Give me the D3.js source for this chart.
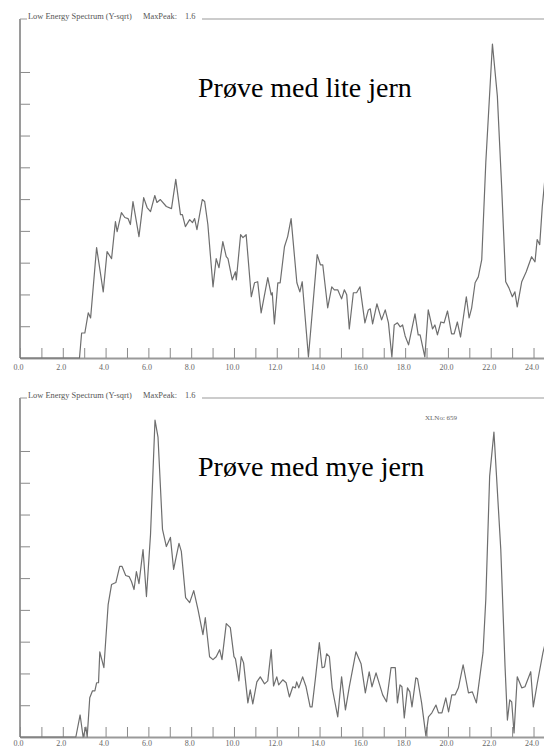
<!DOCTYPE html>
<html>
<head>
<meta charset="utf-8">
<script src="https://cdn.jsdelivr.net/npm/d3@7"></script>
<style>
  body { margin: 0; background: #fff; }
  svg { display: block; }
</style>
</head>
<body>
<svg id="chart" width="544" height="747"></svg>
<script>
'use strict';

// energy (keV) / amplitude (sqrt scale)
var liteJern = [
  [0,0],[2.78,0],[2.88,0.118],[3.03,0.118],[3.19,0.213],[3.30,0.189],[3.58,0.521],[3.89,0.312],
  [4.07,0.502],[4.28,0.469],[4.46,0.644],[4.54,0.596],[4.74,0.686],[4.90,0.663],[5.05,0.658],
  [5.16,0.630],[5.28,0.738],[5.56,0.573],[5.78,0.757],[5.94,0.710],[6.10,0.691],[6.30,0.767],
  [6.40,0.734],[6.56,0.748],[6.84,0.715],[7.08,0.705],[7.28,0.843],[7.50,0.677],[7.59,0.677],
  [7.73,0.620],[7.93,0.653],[8.06,0.639],[8.16,0.658],[8.27,0.606],[8.52,0.748],[8.63,0.739],
  [8.78,0.630],[9.02,0.336],[9.17,0.469],[9.30,0.426],[9.48,0.549],[9.64,0.478],[9.72,0.469],
  [9.92,0.369],[10.07,0.407],[10.11,0.369],[10.31,0.582],[10.42,0.568],[10.57,0.582],[10.81,0.289],
  [10.96,0.355],[11.11,0.360],[11.27,0.213],[11.58,0.379],[11.74,0.298],[11.79,0.308],[11.89,0.161],
  [12.05,0.355],[12.16,0.355],[12.36,0.525],[12.51,0.573],[12.67,0.658],[12.83,0.478],[12.94,0.355],
  [13.08,0.312],[13.19,0.360],[13.48,0.005],[13.89,0.488],[14.04,0.440],[14.15,0.440],[14.38,0.237],
  [14.57,0.336],[14.69,0.322],[14.85,0.322],[15.03,0.279],[15.16,0.322],[15.27,0.298],[15.39,0.137],
  [15.58,0.308],[15.73,0.308],[15.89,0.336],[16.12,0.166],[16.28,0.227],[16.37,0.232],[16.48,0.161],
  [16.68,0.256],[16.90,0.180],[17.07,0.227],[17.22,0.166],[17.38,0.005],[17.49,0.156],[17.64,0.166],
  [17.77,0.147],[17.88,0.156],[18.00,0.104],[18.16,0.062],[18.46,0.208],[18.61,0.109],[18.70,0.109],
  [18.92,0.005],[19.08,0.227],[19.28,0.137],[19.39,0.156],[19.51,0.109],[19.67,0.170],[19.82,0.166],
  [19.98,0.222],[20.17,0.114],[20.29,0.114],[20.44,0.170],[20.59,0.099],[20.86,0.289],[20.99,0.189],
  [21.11,0.237],[21.27,0.355],[21.42,0.383],[21.58,0.464],[21.77,0.923],[22.08,1.482],[22.31,1.236],
  [22.51,0.810],[22.70,0.360],[22.85,0.331],[23.01,0.289],[23.13,0.312],[23.24,0.241],[23.45,0.360],
  [23.66,0.407],[23.91,0.478],[24.07,0.454],[24.17,0.559],[24.29,0.535],[24.41,0.715],[24.53,0.843]
];

var myeJern = [
  [0,0],[2.61,0],[2.81,0.104],[2.95,0],[3.08,0.047],[3.14,0],[3.26,0.185],[3.39,0.218],[3.50,0.218],
  [3.58,0.256],[3.67,0.256],[3.73,0.402],[3.92,0.327],[4.12,0.625],[4.28,0.720],[4.48,0.729],
  [4.66,0.805],[4.77,0.805],[4.94,0.762],[5.10,0.757],[5.21,0.734],[5.33,0.696],[5.44,0.781],
  [5.56,0.724],[5.75,0.885],[5.91,0.663],[6.10,0.956],[6.31,1.496],[6.45,1.415],[6.66,0.980],
  [6.84,0.899],[7.03,0.942],[7.18,0.791],[7.43,0.914],[7.54,0.876],[7.74,0.658],[7.93,0.634],
  [8.12,0.691],[8.32,0.601],[8.55,0.483],[8.66,0.563],[8.86,0.379],[9.02,0.365],[9.17,0.379],
  [9.33,0.412],[9.44,0.365],[9.64,0.535],[9.83,0.516],[10.00,0.379],[10.07,0.369],[10.23,0.265],
  [10.34,0.379],[10.45,0.350],[10.65,0.161],[10.76,0.222],[10.88,0.156],[11.07,0.260],[11.23,0.284],
  [11.43,0.251],[11.58,0.265],[11.74,0.412],[11.85,0.241],[12.00,0.284],[12.09,0.246],[12.28,0.270],
  [12.44,0.256],[12.59,0.189],[12.75,0.237],[12.87,0.232],[12.93,0.260],[13.03,0.232],[13.21,0.284],
  [13.37,0.237],[13.56,0.142],[13.65,0.142],[13.81,0.279],[13.99,0.445],[14.12,0.327],[14.23,0.331],
  [14.33,0.393],[14.46,0.379],[14.59,0.232],[14.85,0.095],[15.03,0.284],[15.21,0.128],[15.39,0.237],
  [15.70,0.402],[15.94,0.346],[16.14,0.208],[16.32,0.308],[16.45,0.237],[16.64,0.303],[16.95,0.199],
  [17.13,0.166],[17.34,0.327],[17.54,0.327],[17.64,0.161],[17.76,0.246],[17.85,0.237],[17.96,0.090],
  [18.11,0.232],[18.22,0.213],[18.32,0.142],[18.50,0.279],[18.58,0.275],[18.77,0.161],[18.97,0.005],
  [19.09,0.095],[19.25,0.114],[19.44,0.151],[19.56,0.114],[19.72,0.114],[19.90,0.185],[20.03,0.118],
  [20.18,0.199],[20.34,0.199],[20.49,0.232],[20.71,0.341],[20.96,0.208],[21.14,0.213],[21.33,0.161],
  [21.49,0.284],[21.64,0.398],[21.77,0.649],[21.95,1.231],[22.15,1.439],[22.26,1.250],[22.47,0.885],
  [22.67,0.331],[22.78,0.080],[22.89,0.175],[22.98,0.166],[23.09,0.019],[23.24,0.284],[23.45,0.232],
  [23.60,0.237],[23.87,0.308],[23.99,0.142],[24.18,0.256],[24.44,0.398],[24.53,0.435]
];

var xTicks = d3.range(0, 25);
var yTicks = [0, 0.15, 0.30, 0.45, 0.60, 0.75, 0.90, 1.05, 1.20, 1.35];
var panelTitle = 'Low Energy Spectrum (Y-sqrt)';
var maxPeakLabel = 'MaxPeak:';
var maxPeak = '1.6';

var panels = [
  { data: liteJern, note: 'Prøve med lite jern', top: 19, xlno: null, labelPad: 6 },
  { data: myeJern, note: 'Prøve med mye jern', top: 398, xlno: 'XLNo: 659', labelPad: 3 }
];

(function () {
  var svg = d3.select('#chart');
  var W = 544, H = 339;
  var axisGrey = '#9a9a9a';
  var serif = '"Liberation Serif", "Times New Roman", serif';

  var x = d3.scaleLinear().domain([0, 24.49]).range([20, W]);

  panels.forEach(function (p) {
    var g = svg.append('g').attr('transform', 'translate(0,' + p.top + ')');
    var y = d3.scaleLinear().domain([0, 1.6]).range([H, 0]);

    // frame with title sitting in the top edge
    g.append('path')
      .attr('d', 'M20,0 H27 M202,0 H' + W)
      .attr('stroke', axisGrey).attr('stroke-width', 1.2).attr('fill', 'none');

    g.append('text').attr('x', 28).attr('y', 0)
      .attr('font-family', serif).attr('font-size', 8.4).attr('fill', '#555')
      .text(panelTitle);
    g.append('text').attr('x', 143).attr('y', 0)
      .attr('font-family', serif).attr('font-size', 8.4).attr('fill', '#555')
      .text(maxPeakLabel);
    g.append('text').attr('x', 185).attr('y', 0)
      .attr('font-family', serif).attr('font-size', 8.4).attr('fill', '#555')
      .text(maxPeak);

    var yAxis = d3.axisRight(y).tickValues(yTicks).tickSize(10).tickSizeOuter(0)
      .tickFormat('');
    var ya = g.append('g').attr('transform', 'translate(20,0)').call(yAxis);
    ya.select('.domain').attr('stroke', axisGrey).attr('stroke-width', 2)
      .attr('d', 'M0,0 V' + H);
    ya.selectAll('.tick line').attr('stroke', '#8a8a8a');

    var xAxis = d3.axisBottom(x).tickValues(xTicks).tickSizeInner(-10).tickSizeOuter(0)
      .tickPadding(p.labelPad)
      .tickFormat(function (d) { return d % 2 === 0 ? d3.format('.1f')(d) : ''; });
    var xa = g.append('g').attr('transform', 'translate(0,' + H + ')').call(xAxis);
    xa.select('.domain').attr('stroke', axisGrey).attr('stroke-width', 2);
    xa.selectAll('.tick line').attr('stroke', '#8a8a8a');
    xa.selectAll('.tick text')
      .attr('font-family', serif).attr('font-size', 8).attr('fill', '#666')
      .attr('dx', -2);

    var line = d3.line()
      .x(function (d) { return x(d[0]); })
      .y(function (d) { return y(d[1]); });

    g.append('path').datum(p.data)
      .attr('d', line)
      .attr('fill', 'none')
      .attr('stroke', '#6e6e6e')
      .attr('stroke-width', 1.2)
      .attr('stroke-linejoin', 'round');

    g.append('text').attr('x', 198).attr('y', 78)
      .attr('font-family', serif).attr('font-size', 28).attr('fill', '#000')
      .text(p.note);

    if (p.xlno) {
      g.append('text').attr('x', 425).attr('y', 22)
        .attr('font-family', serif).attr('font-size', 7).attr('fill', '#666')
        .text(p.xlno);
    }
  });
})();
</script>
</body>
</html>
